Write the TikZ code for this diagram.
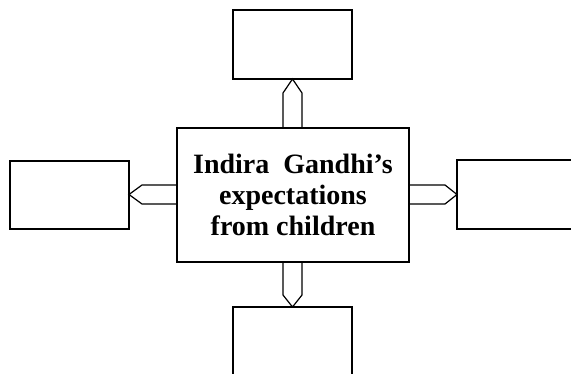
\documentclass[tikz,border=0pt]{standalone}
\usepackage{fontspec}
\setmainfont{Liberation Serif}
\begin{document}
\begin{tikzpicture}[x=1pt,y=-1pt,line width=1.4pt,
  box/.style={draw,line width=1.4pt},
  arr/.style={draw,line width=1.2pt,line join=miter}]
\useasboundingbox (0,0) rectangle (571,374);
\clip (0,0) rectangle (571,374);
% central box
\node[box,minimum width=232pt,minimum height=134pt,inner sep=0pt,
  font=\bfseries\fontsize{28}{31}\selectfont,align=center] (c) at (293,195)
  {Indira\ \ Gandhi’s\\expectations\\from children};
% outer boxes
\draw[box] (233,10) rectangle (352,79);
\coordinate (tb) at (292.5,79);
\draw[box] (233,400) -- (233,307) -- (352,307) -- (352,400);
\coordinate (bb) at (292.5,307);
\draw[box] (10,161) rectangle (129,229);
\coordinate (lb) at (129,194.5);
\draw[box] (600,160) -- (457,160) -- (457,229) -- (600,229);
\coordinate (rb) at (457,194.5);
% arrows
\draw[arr] (283,128) -- (283,93) -- (tb) -- (302,93) -- (302,128);
\draw[arr] (283,262) -- (283,295) -- (bb) -- (302,295) -- (302,262);
\draw[arr] (177,185) -- (142,185) -- (lb) -- (142,204) -- (177,204);
\draw[arr] (409,185) -- (445,185) -- (rb) -- (445,204) -- (409,204);
\end{tikzpicture}
\end{document}
